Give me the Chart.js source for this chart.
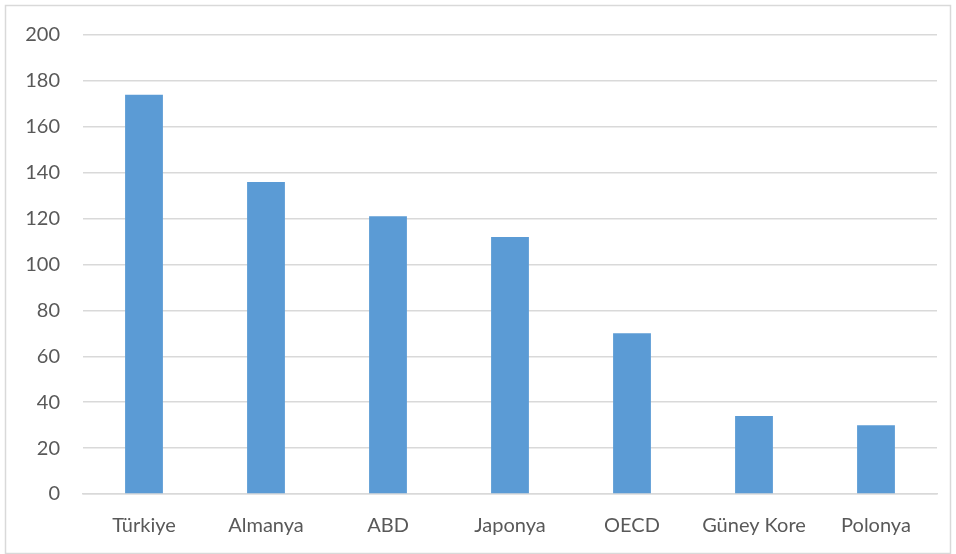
<!DOCTYPE html>
<html>
<head>
<meta charset="utf-8">
<script src="https://cdn.jsdelivr.net/npm/chart.js@4/dist/chart.umd.min.js"></script>
<style>
  html, body { margin: 0; padding: 0; background: #ffffff; }
  #wrap { position: relative; width: 956px; height: 554px; }
</style>
</head>
<body>
<div id="wrap"><canvas id="c" width="956" height="554"></canvas></div>
<script>
const categories = ['Türkiye', 'Almanya', 'ABD', 'Japonya', 'OECD', 'Güney Kore', 'Polonya'];
const values = [174, 136, 121, 112, 70, 34, 30];
const yTicks = [0, 20, 40, 60, 80, 100, 120, 140, 160, 180, 200];

// Light frame around the whole chart
const framePlugin = {
  id: 'frame',
  beforeDraw(chart) {
    const ctx = chart.ctx;
    ctx.save();
    ctx.fillStyle = '#ffffff';
    ctx.fillRect(0, 0, chart.width, chart.height);
    ctx.strokeStyle = '#d9d9d9';
    ctx.lineWidth = 1.5;
    ctx.strokeRect(5.5, 5.5, chart.width - 11, chart.height - 6);
    ctx.restore();
  }
};

new Chart(document.getElementById('c'), {
  type: 'bar',
  data: {
    labels: categories,
    datasets: [{
      data: values,
      backgroundColor: '#5b9bd5',
      borderWidth: 0,
      barPercentage: 0.31,
      categoryPercentage: 1.0
    }]
  },
  options: {
    responsive: false,
    animation: false,
    devicePixelRatio: 1,
    layout: { padding: { top: 35, right: 19, bottom: 0, left: 0 } },
    plugins: { legend: { display: false }, tooltip: { enabled: false } },
    scales: {
      x: {
        grid: { display: false, drawTicks: false },
        border: { color: '#d9d9d9', width: 1.5 },
        ticks: {
          color: '#595959',
          font: { family: 'Lato', size: 20 },
          padding: 20,
          maxRotation: 0
        },
        afterFit(scale) { scale.height = 60; }
      },
      y: {
        min: 0,
        max: 200,
        afterBuildTicks(scale) { scale.ticks = yTicks.map(v => ({ value: v })); },
        grid: { color: '#d9d9d9', lineWidth: 1.5, drawTicks: false },
        border: { display: false },
        ticks: {
          color: '#595959',
          font: { family: 'Lato', size: 20 },
          padding: 23
        },
        afterFit(scale) { scale.width = 83; }
      }
    }
  },
  plugins: [framePlugin]
});
</script>
</body>
</html>
